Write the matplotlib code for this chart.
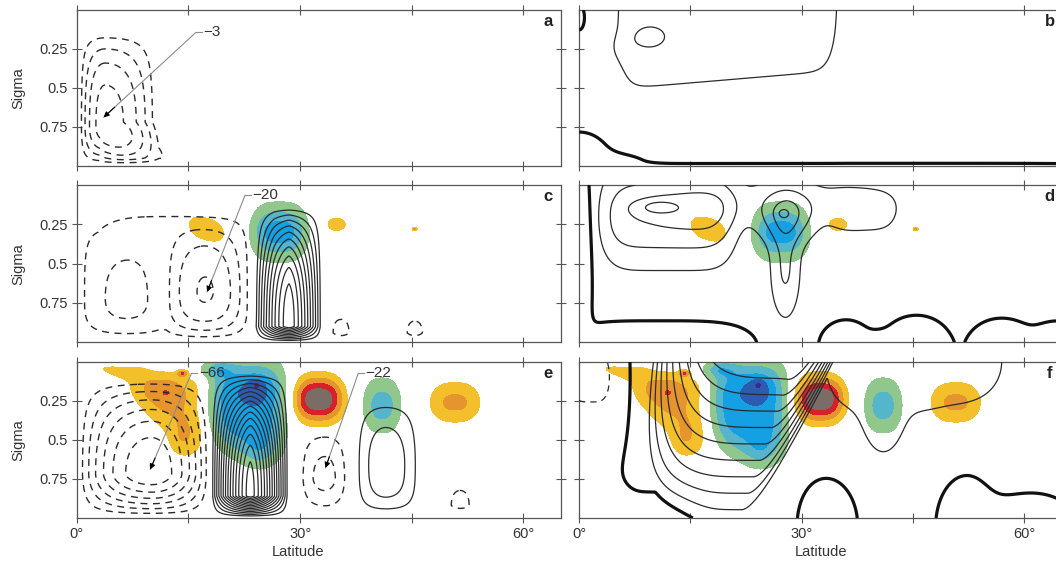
import numpy as np
import matplotlib
matplotlib.use("Agg")
import matplotlib.pyplot as plt

plt.rcParams.update({
    "font.family": ["Liberation Sans", "DejaVu Sans"],
    "font.size": 10.5,
})

# ---------------------------------------------------------------
#  Data
# ---------------------------------------------------------------
# streamfunction cells (left column):
#   (lat0, lat_centre, lat1, sig_top, sig_centre, sig_bottom, value,
#    lat exponent, top exponent, bottom exponent)
CELLS_A = [(0.2, 3.8, 11.0, 0.12, 0.75, 0.998, -3.4, 2.0, 2.5, 2.0),
           (3.0, 8.0, 15.0, 0.72, 0.95, 1.000, -1.0, 2.0, 2.0, 1.0)]
CELLS_C = [(-3.0, 11.75, 26.5, 0.00, 0.72, 0.998, -8.0, 3, 3, 3),
           (1.0, 6.0, 11.0, 0.30, 0.72, 0.998, -4.0, 2, 2, 2),
           (12.0, 17.5, 23.0, 0.20, 0.68, 0.998, -13.0, 2, 2, 2),
           (23.6, 28.5, 33.0, 0.13, 0.90, 0.997, 54, 1.4, 2.5, 1.0),
           (33.5, 35.5, 37.5, 0.78, 0.94, 1.000, -7, 2, 2, 1),
           (43.5, 45.4, 47.3, 0.80, 0.94, 1.000, -7, 2, 2, 1)]
CELLS_E = [(0.0, 10.0, 18.0, 0.10, 0.72, 0.998, -68, 2, 2.2, 1.5),
           (18.0, 23.3, 28.5, 0.07, 0.86, 0.996, 146, 1.4, 2.5, 1.0),
           (29.5, 33.3, 36.8, 0.40, 0.75, 0.996, -24, 2, 2, 1.5),
           (37.0, 41.5, 46.5, 0.20, 0.65, 0.990, 27, 2, 2, 3),
           (49.0, 51.5, 54.0, 0.72, 0.92, 1.000, -13, 2, 2, 1)]
STEP_A, STEP_C, STEP_E = 0.75, 5, 10

# blobs: (lat, sigma, lat width, sigma width, value, lat exponent, tilt[, sigma exponent])
SHADE_CD = [(17.4, 0.28, 2.8, 0.09, 1.8, 2.5, 0.012),
            (27.2, 0.30, 3.7, 0.17, -3.6, 3, 0.0),
            (34.9, 0.25, 1.8, 0.06, 1.5, 2, 0.0),
            (45.4, 0.28, 0.35, 0.012, 2.3, 2, 0.0)]
SHADE_EF = [(12.5, 0.30, 6.0, 0.19, 1.9, 3, 0.035),
            (14.5, 0.17, 3.5, 0.12, 1.0, 4, 0.0),
            (5.5, 0.065, 3.2, 0.035, 1.3, 2, 0.01),
            (11.5, 0.18, 3.0, 0.08, 0.8, 2, 0.0),
            (14.0, 0.52, 1.8, 0.11, 1.0, 2, 0.0),
            (14.2, 0.075, 0.7, 0.02, 2.4, 2, 0.0),
            (22.8, 0.29, 5.3, 0.30, -3.7, 4, 0.0, 3),
            (24.0, 0.17, 2.4, 0.10, -1.2, 2, 0.0),
            (24.2, 0.14, 0.9, 0.035, -0.8, 2, 0.0),
            (24.5, 0.58, 2.6, 0.12, -1.4, 2, 0.0),
            (18.5, 0.05, 2.5, 0.05, -1.5, 2, 0.0),
            (32.5, 0.24, 3.2, 0.14, 5.0, 2.5, 0.0),
            (41.0, 0.28, 2.6, 0.18, -2.6, 2.5, 0.0),
            (50.8, 0.26, 3.6, 0.14, 2.25, 2.5, 0.0)]
SHADE_LEVELS = [-99, -5, -4, -3, -2, -1, 1, 2, 3, 4, 99]
SHADE_COLORS = ["#3a2c86", "#2b5cb0", "#14a0e2", "#55b5cb", "#8fc78d",
                "none", "#f3bf2b", "#e6952e", "#d8202a", "#7b6c66"]

# right column (solid contours, thick zero line)
BASE_B = 0.3
BLOBS_B = [(20.0, 0.0, 15.0, 0.512, 1.51, 14, -0.004),
           (9.5, 0.185, 2.2, 0.07, 0.7, 2, 0.0),
           (5.0, 0.24, 2.5, 0.10, 0.35, 2, 0.0),
           (32.0, 1.02, 40.0, 0.025, -2.2, 8, 0.0),
           (0.0, 1.00, 3.5, 0.17, -1.5, 2, 0.0),
           (5.0, 1.00, 4.0, 0.07, -1.0, 2, 0.0),
           (0.0, 0.05, 0.7, 0.08, -0.8, 2, 0.0)]
FANS_B = []
LEVELS_B, DASHED_B = [1.0, 2.0], []

BASE_D = 3.0
BLOBS_D = [(12.0, 0.20, 9.0, 0.30, 26, 6, 0.0),
           (10.5, 0.14, 3.0, 0.05, 13, 2, 0.0),
           (27.0, 0.12, 17.0, 0.16, 9, 6, 0.0),
           (28.0, 0.20, 3.5, 0.18, 22, 2, 0.0),
           (27.8, 0.55, 2.0, 0.30, 18, 2, 0.0),
           (27.5, 0.18, 0.8, 0.03, 9, 2, 0.0),
           (38.5, 0.20, 4.5, 0.15, 6, 4, 0.0),
           (11.0, 1.03, 11.0, 0.12, -22, 4, 0.0),
           (36.0, 1.03, 2.6, 0.12, -24, 2, 0.0),
           (45.5, 1.03, 3.4, 0.14, -24, 2, 0.0),
           (40.5, 1.03, 2.0, 0.07, -16, 2, 0.0),
           (57.0, 1.03, 3.4, 0.13, -22, 2, 0.0),
           (64.5, 1.03, 3.0, 0.12, -20, 2, 0.0),
           (0.0, 0.50, 1.2, 0.55, -30, 2, 0.0)]
FANS_D = []
LEVELS_D, DASHED_D = [10, 20, 30, 40], []

BASE_F = 4.0
# fan: (lat of core, depth, lat width equatorward, lat width poleward,
#       value, equatorward exponent, lean with depth)
FANS_F = [(29.0, 1.01, 19.3, 5.5, 96, 4, 7.5)]
BLOBS_F = [(42.0, 0.00, 11.0, 0.50, 9, 4, 0.0),
           (41.0, 0.42, 2.5, 0.22, 6, 2, 0.0),
           (54.0, 0.00, 4.0, 0.25, 10, 2, 0.0),
           (1.5, 0.10, 5.0, 0.60, -15, 4, 0.0),
           (8.0, 1.00, 8.0, 0.20, -8, 4, 0.0),
           (33.5, 1.05, 3.8, 0.30, -13, 2, 0.0),
           (52.0, 1.05, 3.6, 0.31, -13, 2, 0.0),
           (61.0, 1.05, 6.0, 0.20, -12, 2, 0.0)]
LEVELS_F, DASHED_F = [10, 20, 30, 40, 50, 60, 70, 80, 90], [-10]

# minimum labels: (text, lat, sigma of minimum, lat, sigma of label)
LABELS_A = [("\u22123", 3.6, 0.69, 17.0, 0.145)]
LABELS_C = [("\u221220", 17.5, 0.68, 23.6, 0.065)]
LABELS_E = [("\u221266", 9.85, 0.69, 16.4, 0.075),
            ("\u221222", 33.4, 0.68, 38.8, 0.075)]

# ---------------------------------------------------------------
lat = np.linspace(0, 65, 651)
sig = np.linspace(0, 1, 401)
LAT, SIG = np.meshgrid(lat, sig)


def bump(x, a, c, b, pa, pb):
    left = x < c
    t = np.where(left, (c - x) / (c - a), (x - c) / (b - c))
    return np.clip(1 - t ** np.where(left, pa, pb), 0, None)


def cells(spec):
    out = np.zeros_like(LAT)
    for l0, lc, l1, s0, sc, s1, v, px, qt, qb in spec:
        out += v * bump(LAT, l0, lc, l1, px, px) * bump(SIG, s0, sc, s1, qt, qb)
    return out


def blobs(spec, base=0.0):
    out = np.full_like(LAT, base)
    for lc, sc, wl, ws, v, p, tilt, *rest in spec:
        q = rest[0] if rest else 2
        ds = SIG - sc - tilt * (LAT - lc)
        out += v * np.exp(-(np.abs(LAT - lc) / wl) ** p - (np.abs(ds) / ws) ** q)
    return out


def fans(spec):
    out = np.zeros_like(LAT)
    for lc, depth, wl_eq, wl_po, v, p, lean in spec:
        dl = LAT - (lc - lean * SIG)
        wl = np.where(dl < 0, wl_eq, wl_po)
        pp = np.where(dl < 0, p, 2)
        out += v * np.clip(1 - SIG / depth - (np.abs(dl) / wl) ** pp, 0, None)
    return out


def step_levels(f, step):
    lo = np.arange(-step, f.min() - 1e-9, -step)[::-1]
    hi = np.arange(step, f.max() + 1e-9, step)
    return lo, hi


W, H = 1056, 571
fig = plt.figure(figsize=(W / 100, H / 100), dpi=100)

rows = [(9.8, 165.7), (185.0, 342.3), (361.7, 518.0)]
axes = []
for top, bot in rows:
    axl = fig.add_axes([76.8 / W, 1 - bot / H, 483.9 / W, (bot - top) / H])
    axr = fig.add_axes([579.3 / W, 1 - bot / H, 481.7 / W, (bot - top) / H])
    axes.append((axl, axr))

LINE = "#2b2b2b"
DASH = (0, (5, 4))

left_specs = [(CELLS_A, STEP_A, None, LABELS_A),
              (CELLS_C, STEP_C, SHADE_CD, LABELS_C),
              (CELLS_E, STEP_E, SHADE_EF, LABELS_E)]
right_specs = [(BLOBS_B, FANS_B, BASE_B, LEVELS_B, DASHED_B),
               (BLOBS_D, FANS_D, BASE_D, LEVELS_D, DASHED_D),
               (BLOBS_F, FANS_F, BASE_F, LEVELS_F, DASHED_F)]

for (axl, axr), (cl, step, shade, labels), (bl, fn, base, lev, dlev) in zip(
        axes, left_specs, right_specs):
    if shade is not None:
        sh = blobs(shade)
        for ax in (axl, axr):
            ax.contourf(LAT, SIG, sh, levels=SHADE_LEVELS, colors=SHADE_COLORS, zorder=1)

    psi = cells(cl)
    lo, hi = step_levels(psi, step)
    if len(lo):
        axl.contour(LAT, SIG, psi, levels=lo, colors=LINE, linewidths=1.0,
                    linestyles=[DASH], zorder=3)
    if len(hi):
        axl.contour(LAT, SIG, psi, levels=hi, colors=LINE, linewidths=0.9,
                    linestyles="solid", zorder=3)

    u = blobs(bl, base) + fans(fn)
    axr.contour(LAT, SIG, u, levels=lev, colors=LINE, linewidths=0.9,
                linestyles="solid", zorder=3)
    if dlev and u.min() < dlev[-1]:
        axr.contour(LAT, SIG, u, levels=dlev, colors=LINE, linewidths=0.9,
                    linestyles=[DASH], zorder=3)
    axr.contour(LAT, SIG, u, levels=[0], colors="#111111", linewidths=2.3, zorder=4)

    for txt, tl, ts, xl, xs in labels:
        axl.annotate("", xy=(tl, ts), xytext=(xl - 1.0, xs),
                     arrowprops=dict(arrowstyle="-", color="0.55", lw=0.8,
                                     shrinkA=0, shrinkB=0), zorder=5)
        axl.annotate("", xy=(tl, ts), xytext=(tl + 0.12 * (xl - 1.0 - tl), ts + 0.12 * (xs - ts)),
                     arrowprops=dict(arrowstyle="-|>", color="black", lw=0.8,
                                     mutation_scale=8, shrinkA=0, shrinkB=0), zorder=6)
        axl.plot([xl - 1.0, xl - 0.2], [xs, xs], color="0.55", lw=0.8, zorder=5)
        axl.text(xl, xs, txt, ha="left", va="center", fontsize=11, color="#333333", zorder=6)

letters = [("a", "b"), ("c", "d"), ("e", "f")]
for i, (axl, axr) in enumerate(axes):
    for j, ax in enumerate((axl, axr)):
        ax.set_xlim(0, 65)
        ax.set_ylim(1, 0)
        ax.set_xticks([0, 15, 30, 45, 60])
        ax.set_yticks([0.25, 0.5, 0.75])
        ax.tick_params(direction="inout", length=7, width=0.8, color="#555555",
                       top=True, right=True, labelsize=10.5, labelcolor="#333333", pad=3)
        for sp in ax.spines.values():
            sp.set_color("#555555")
            sp.set_linewidth(0.9)
        if i == 2:
            ax.set_xticklabels(["0\u00b0", "", "30\u00b0", "", "60\u00b0"])
        else:
            ax.set_xticklabels([])
        if j == 0:
            ax.set_yticklabels(["0.25", "0.5", "0.75"])
            ax.text(-0.1215, 0.5, "Sigma", transform=ax.transAxes, rotation=90,
                    ha="center", va="center", fontsize=10.5, color="#333333")
        else:
            ax.set_yticklabels([])
        xl = 0.974 if j == 0 else 0.977
        ax.text(xl, 0.925, letters[i][j], transform=ax.transAxes, ha="center",
                va="center", fontsize=12, fontweight="bold", color="#222222")

axes[2][0].text(0.457, -0.218, "Latitude", transform=axes[2][0].transAxes,
                ha="center", va="center", fontsize=10.5, color="#333333")
axes[2][1].text(0.502, -0.218, "Latitude", transform=axes[2][1].transAxes,
                ha="center", va="center", fontsize=10.5, color="#333333")

fig.savefig("out.png", dpi=100, facecolor="white")
